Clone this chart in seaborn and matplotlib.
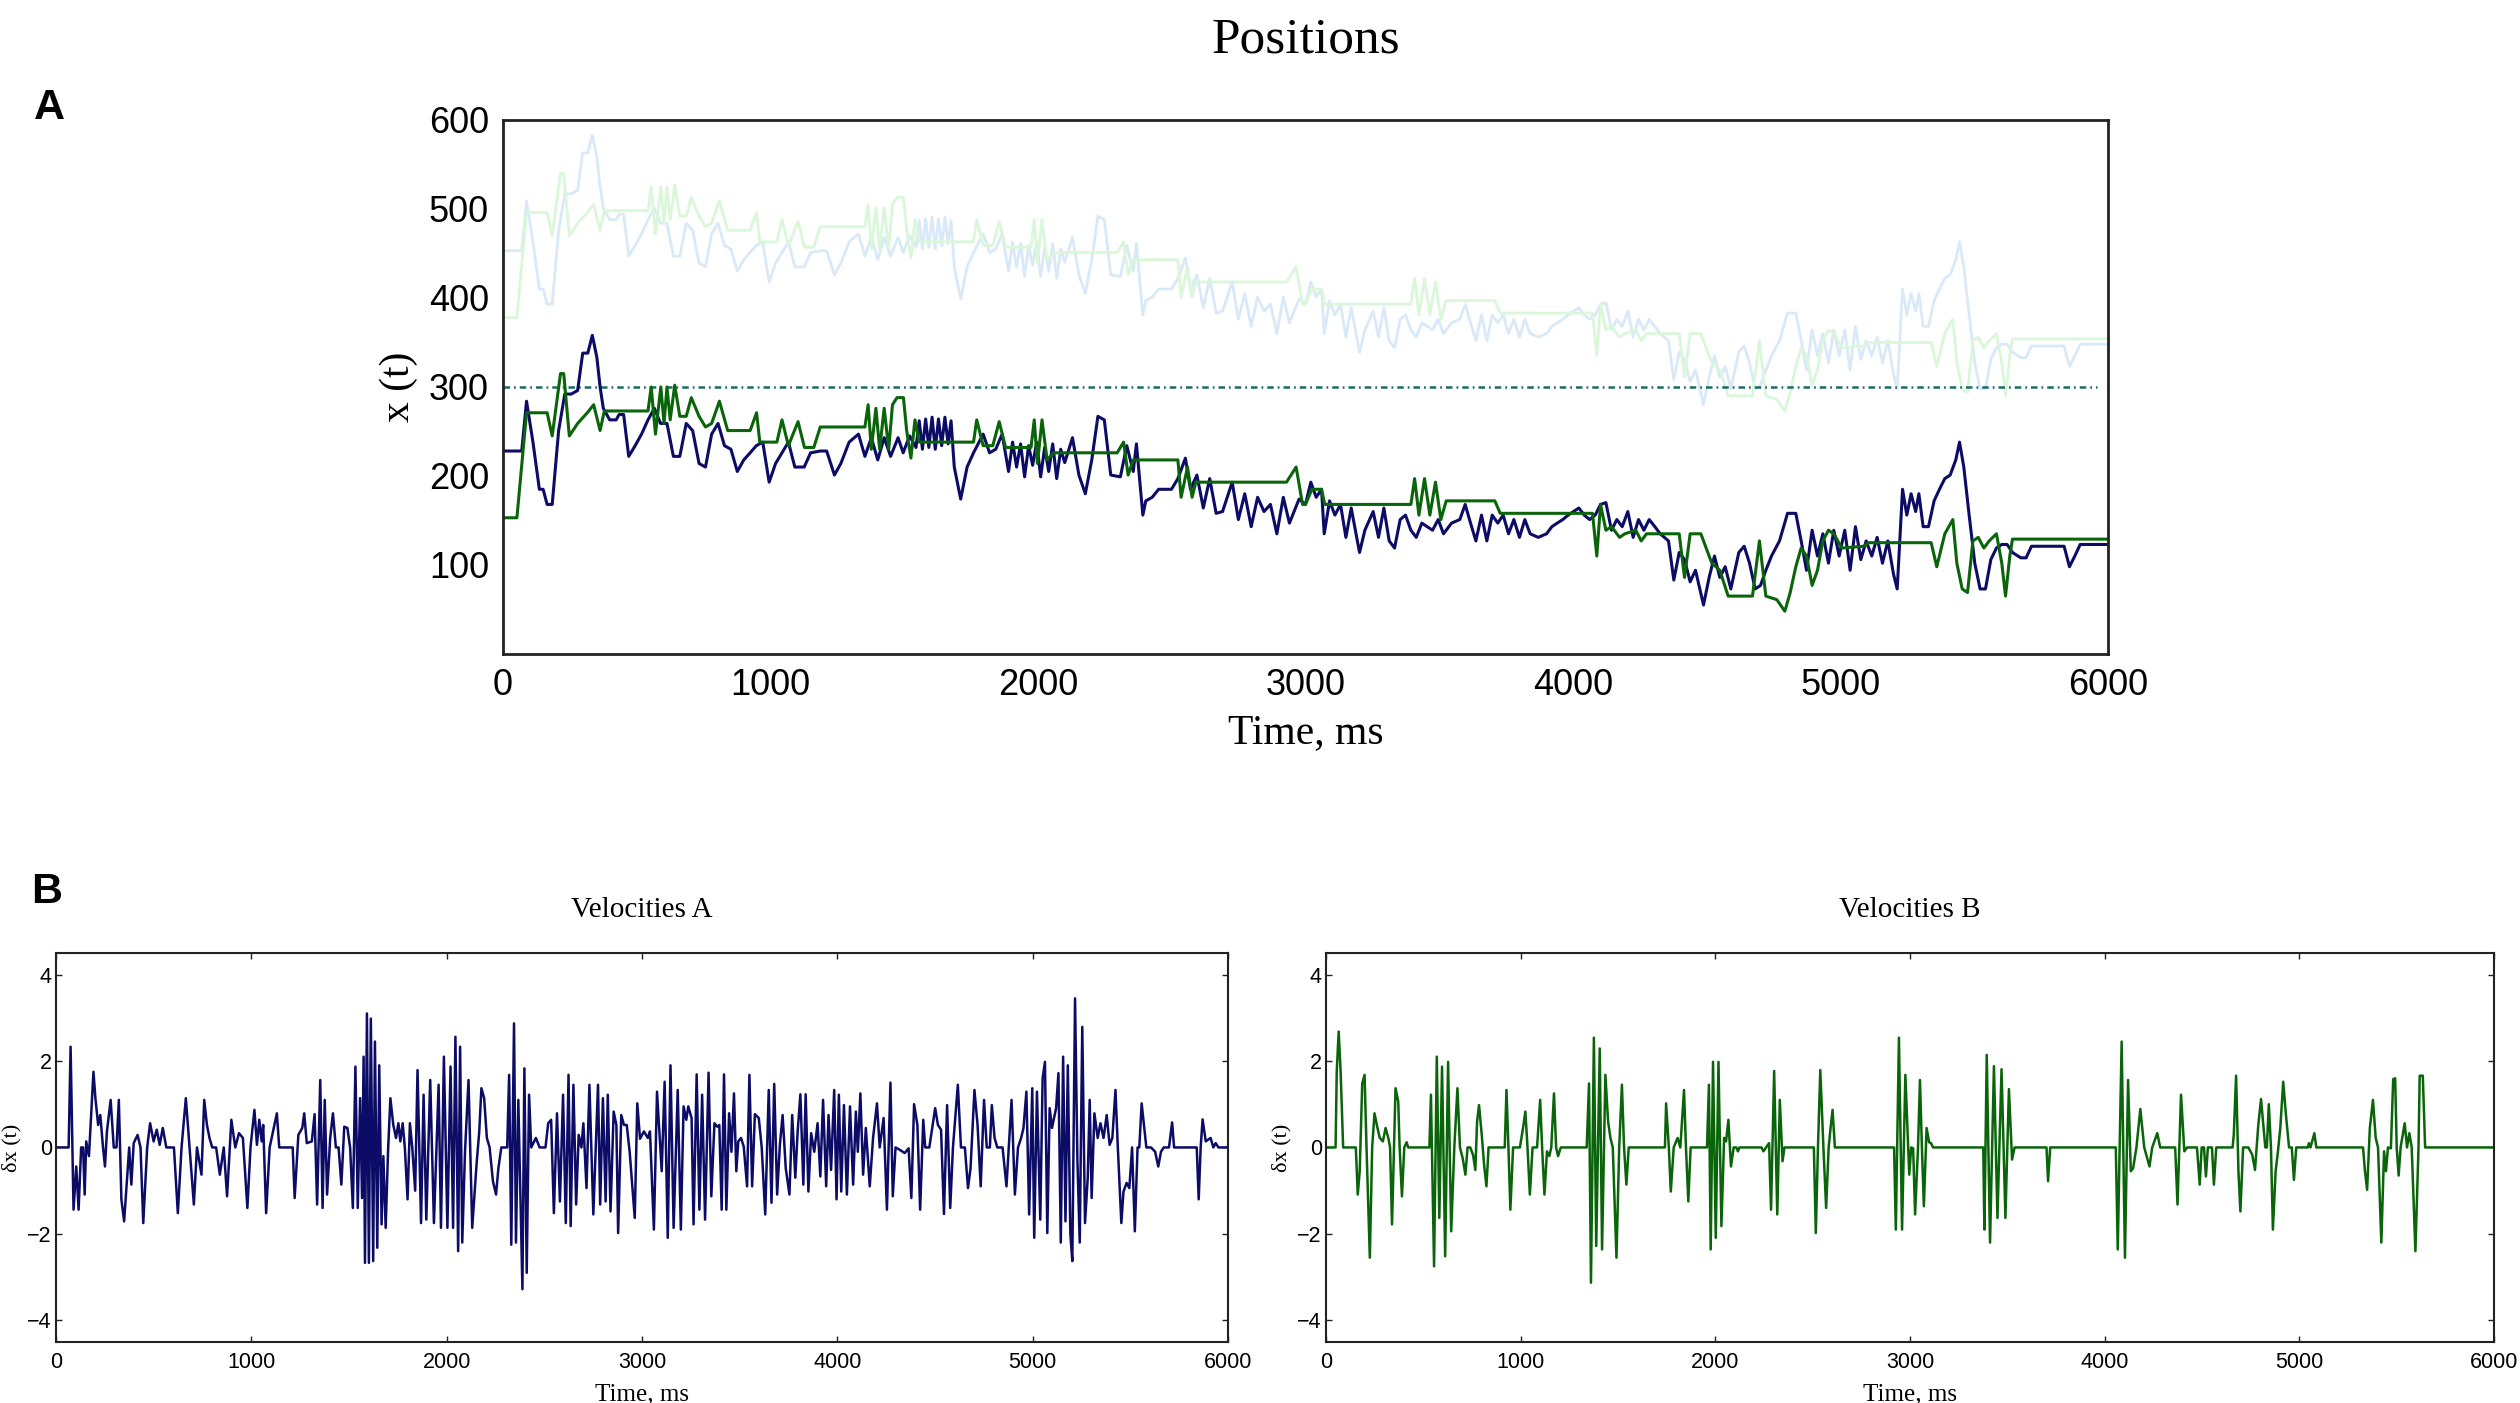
import numpy as np
import pandas as pd
import matplotlib
matplotlib.use("Agg")
import matplotlib.pyplot as plt
import seaborn as sns

# ---------------- data ----------------
BLUE_T = [0, 70, 88, 112, 136, 150, 165, 184, 208, 231, 255, 279, 298, 317, 334, 351, 363, 375, 399, 423,
          434, 451, 470, 494, 518, 542, 566, 589, 613, 637, 661, 685, 709, 733, 757, 780, 804, 828, 852, 876,
          900, 924, 947, 971, 995, 1019, 1043, 1067, 1091, 1126, 1150, 1186, 1210, 1239, 1263, 1294, 1329,
          1353, 1377, 1401, 1425, 1449, 1477, 1496, 1520, 1544, 1556, 1568, 1580, 1592, 1604, 1616, 1628,
          1640, 1652, 1664, 1675, 1687, 1711, 1735, 1759, 1795, 1819, 1842, 1866, 1890, 1905, 1920, 1935,
          1950, 1965, 1980, 1995, 2010, 2025, 2040, 2055, 2070, 2085, 2100, 2129, 2153, 2177, 2201, 2224,
          2248, 2272, 2308, 2332, 2356, 2368, 2392, 2403, 2427, 2451, 2499, 2523, 2551, 2570, 2594, 2618,
          2642, 2666, 2690, 2726, 2749, 2773, 2797, 2821, 2845, 2869, 2893, 2917, 2940, 2976, 3000, 3020,
          3040, 3060, 3070, 3090, 3110, 3131, 3151, 3171, 3202, 3222, 3253, 3273, 3293, 3313, 3333, 3354,
          3374, 3394, 3414, 3435, 3455, 3475, 3496, 3516, 3546, 3577, 3597, 3617, 3637, 3658, 3678, 3698,
          3719, 3739, 3759, 3779, 3800, 3820, 3840, 3870, 3901, 3921, 3941, 3962, 3982, 4002, 4022, 4042,
          4062, 4083, 4103, 4123, 4144, 4164, 4184, 4205, 4225, 4245, 4265, 4285, 4306, 4326, 4357, 4377,
          4397, 4417, 4438, 4458, 4488, 4509, 4529, 4549, 4569, 4590, 4620, 4640, 4660, 4681, 4701, 4721,
          4742, 4772, 4802, 4833, 4853, 4873, 4894, 4914, 4934, 4955, 4975, 4995, 5016, 5036, 5056, 5076,
          5096, 5117, 5137, 5157, 5177, 5198, 5212, 5232, 5248, 5264, 5281, 5293, 5309, 5329, 5350, 5370,
          5390, 5410, 5431, 5445, 5461, 5481, 5502, 5522, 5542, 5562, 5583, 5603, 5623, 5643, 5674, 5694,
          5714, 5836, 5856, 5876, 5896, 6000]
BLUE_X = [228, 228, 284, 238, 185, 185, 168, 168, 251, 292, 292, 296, 338, 338, 358, 333, 300, 276, 263, 263,
          269, 269, 222, 234, 247, 263, 276, 259, 259, 222, 222, 259, 251, 214, 210, 247, 259, 234, 230, 205,
          218, 226, 234, 238, 193, 214, 226, 238, 210, 210, 226, 228, 228, 201, 214, 238, 247,
          222, 243, 218, 243, 222, 243, 226, 245, 232, 262, 230, 264, 232, 266, 230, 264,
          234, 266, 236, 262, 210, 174, 210, 226, 247, 226, 230, 247, 205, 238, 210, 236,
          199, 234, 212, 238, 199, 232, 205, 236, 197, 230, 215, 243, 201, 180, 218, 267,
          263, 201, 199, 234, 205, 236, 156, 172, 176, 185, 185, 197, 220, 185, 201, 164,
          197, 158, 160, 193, 151, 180, 143, 176, 160, 168, 135, 176, 147, 174, 168, 193,
          176, 185, 135, 172, 156, 168, 131, 164, 114, 139, 160, 131, 164, 127, 119, 151,
          156, 139, 131, 147, 143, 139, 151, 135, 147, 151, 168, 147, 127, 156, 127, 156,
          147, 156, 135, 151, 131, 151, 135, 131, 135, 143, 147, 151, 156, 160, 164, 156,
          151, 156, 168, 170, 139, 151, 143, 160, 131, 151, 139, 151, 143, 135, 127, 83,
          114, 106, 81, 94, 55, 86, 110, 86, 98, 73, 114, 121, 102, 73, 77, 94,
          110, 127, 158, 158, 127, 94, 139, 110, 135, 102, 139, 110, 139, 94, 143, 106,
          127, 110, 131, 102, 127, 90, 73, 185, 156, 180, 160, 180, 143, 143, 172, 185,
          197, 201, 218, 238, 210, 156, 102, 73, 73, 106, 119, 123, 123, 114, 108, 108,
          121, 121, 98, 110, 123, 123]

GREEN_T = [0, 52, 88, 165, 184, 215, 227, 248, 279, 315, 339, 363, 379, 542, 554, 570, 590, 602, 613, 625,
           642, 661, 685, 704, 733, 757, 780, 809, 840, 924, 948, 960, 1024, 1043, 1067, 1103, 1127, 1162,
           1186, 1353, 1365, 1377, 1394, 1408, 1425, 1442, 1456, 1473, 1497, 1509, 1525, 1540, 1556, 1759,
           1771, 1795, 1831, 1855, 1879, 1974, 1986, 1998, 2015, 2034, 2058, 2296, 2320, 2337, 2356, 2523,
           2535, 2559, 2576, 2590, 2929, 2965, 2989, 3000, 3024, 3060, 3072, 3394, 3408, 3424, 3445, 3465,
           3486, 3506, 3526, 3708, 3728, 4073, 4089, 4103, 4123, 4144, 4174, 4194, 4235, 4255, 4275, 4397,
           4417, 4438, 4478, 4519, 4549, 4580, 4671, 4697, 4721, 4762, 4792, 4812, 4833, 4853, 4873, 4894,
           4914, 4934, 4955, 4975, 5005, 5086, 5106, 5339, 5360, 5390, 5420, 5435, 5455, 5475, 5495, 5515,
           5536, 5556, 5583, 5603, 5617, 5633, 5643, 6000]
GREEN_X = [153, 153, 271, 271, 245, 315, 315, 245, 259, 271, 280, 251, 273, 273, 300, 247, 300, 259, 300, 263,
           302, 267, 267, 288, 267, 255, 259, 284, 251, 251, 271, 238, 238, 263, 234, 261, 232, 232,
           255, 255, 280, 230, 276, 230, 276, 230, 280, 288, 288, 251, 220, 263, 238, 238,
           263, 234, 234, 261, 232, 232, 263, 214, 263, 218, 226, 226, 238, 201, 218, 218,
           176, 210, 176, 193, 193, 210, 168, 168, 185, 185, 168, 168, 197, 156, 197, 156,
           193, 151, 172, 172, 158, 158, 110, 168, 139, 143, 131, 135, 139, 127, 135, 135,
           86, 135, 135, 102, 94, 65, 65, 127, 65, 61, 48, 69, 98, 119, 110, 77,
           94, 127, 139, 135, 119, 121, 125, 125, 98, 135, 151, 102, 73, 69, 127, 131,
           119, 127, 135, 102, 65, 110, 129, 129]

LIGHT_OFFSET = 225      # the faint traces are the same paths drawn 225 units higher
REFERENCE_LEVEL = 300   # dash-dot line

VEL_A_T = [0, 65, 75, 90, 104, 116, 129, 139, 147, 155, 169, 192, 202, 216, 227, 241, 251, 261, 280, 296,
           310, 322, 335, 349, 363, 375, 386, 398, 418, 433, 447, 467, 482, 500, 516, 531, 547, 565, 604, 624,
           643, 665, 684, 706, 722, 745, 759, 773, 786, 800, 820, 839, 859, 876, 898, 918, 937, 957, 980, 996,
           1016, 1029, 1041, 1053, 1061, 1076, 1094, 1131, 1143, 1212, 1222, 1241, 1261, 1271, 1284, 1310,
           1324, 1337, 1353, 1365, 1376, 1388, 1404, 1418, 1433, 1447, 1461, 1476, 1492, 1506, 1520, 1533,
           1545, 1557, 1567, 1575, 1582, 1592, 1602, 1612, 1624, 1633, 1645, 1655, 1667, 1676, 1688, 1700,
           1712, 1727, 1741, 1753, 1763, 1775, 1786, 1800, 1812, 1824, 1839, 1851, 1869, 1882, 1896, 1916,
           1935, 1959, 1971, 1986, 2004, 2020, 2033, 2045, 2059, 2069, 2080, 2094, 2112, 2131, 2153, 2167,
           2178, 2192, 2206, 2220, 2237, 2253, 2265, 2280, 2310, 2320, 2331, 2345, 2355, 2367, 2378, 2388,
           2398, 2410, 2422, 2433, 2457, 2476, 2506, 2520, 2535, 2549, 2565, 2580, 2596, 2610, 2624, 2635,
           2649, 2663, 2676, 2690, 2700, 2716, 2731, 2751, 2775, 2786, 2800, 2814, 2825, 2839, 2855, 2869,
           2878, 2894, 2908, 2922, 2937, 2963, 2976, 2990, 3010, 3030, 3041, 3061, 3077, 3091, 3101, 3116,
           3132, 3146, 3162, 3183, 3199, 3213, 3227, 3237, 3254, 3264, 3280, 3294, 3308, 3323, 3341, 3355,
           3371, 3385, 3396, 3408, 3420, 3432, 3446, 3458, 3471, 3483, 3493, 3507, 3521, 3538, 3550, 3564,
           3578, 3598, 3613, 3631, 3649, 3663, 3677, 3692, 3706, 3720, 3736, 3755, 3769, 3785, 3797, 3811,
           3826, 3838, 3852, 3866, 3882, 3899, 3913, 3927, 3943, 3955, 3968, 3984, 3996, 4008, 4020, 4034,
           4049, 4065, 4081, 4095, 4105, 4118, 4132, 4146, 4166, 4183, 4203, 4217, 4237, 4254, 4272, 4284,
           4298, 4318, 4345, 4365, 4379, 4393, 4410, 4424, 4440, 4450, 4471, 4487, 4501, 4515, 4531, 4546,
           4562, 4578, 4592, 4617, 4633, 4653, 4669, 4682, 4702, 4718, 4734, 4751, 4765, 4781, 4791, 4805,
           4819, 4846, 4866, 4892, 4909, 4925, 4941, 4953, 4968, 4982, 4998, 5008, 5022, 5039, 5051, 5063,
           5075, 5087, 5099, 5120, 5132, 5144, 5156, 5168, 5180, 5193, 5203, 5217, 5229, 5241, 5254, 5268,
           5282, 5292, 5302, 5316, 5333, 5347, 5363, 5379, 5394, 5408, 5424, 5436, 5454, 5465, 5481, 5495,
           5509, 5523, 5537, 5546, 5558, 5570, 5582, 5606, 5627, 5643, 5657, 5671, 5698, 5714, 5724, 5840,
           5850, 5860, 5870, 5886, 5911, 5925, 5937, 5951, 6000]
VEL_A_V = [0, 0, 2.33, -1.44, -0.44, -1.44, 0, 0, -1.09, 0.14, -0.2, 1.75, 1.14, 0.52, 0.75, 0, -0.44, 0.37, 1.1, 0,
           0, 1.1, -1.2, -1.71, -0.78, 0, -0.86, 0.1, 0.29, 0, -1.75, 0, 0.56, 0.14, 0.41, 0.06, 0.45, 0, 0, -1.52,
           0, 1.14, 0, -1.32, 0, -0.63, 1.1, 0.52, 0.22, 0, 0, -0.63, 0, -1.13, 0.64, 0, 0.33, 0.22, -1.4, 0,
           0.87, 0.06, 0.64, 0.14, 0.52, -1.52, 0, 0.79, 0, 0, -1.17, 0.29, 0.45, 0.79, 0.1, 0.14,
           0.77, -1.32, 1.56, -1.4, 1.1, -1.09, 0.22, 0.79, 0, 0, -0.86, 0.48, 0.45, 0, -1.4, 1.87,
           -1.4, 1.14, -1.17, 2.1, -2.67, 3.1, -2.67, 2.98, -2.63, 2.45, -2.32, 1.9, -1.78, -0.2, -1.86, -0.1,
           1.14, 0.52, 0.22, 0.56, 0.14, 0.56, 0, -1.2, 0.56, 0, -1.0, 1.79, -1.75, 1.22, -1.67, 1.56,
           -1.75, 1.45, -1.86, 2.1, -1.86, 1.87, -1.86, 2.56, -2.4, 2.33, -2.2, -0.1, 1.56, -1.86, -0.4, 0.37,
           1.37, 1.14, 0.22, 0, -0.78, -1.09, -0.48, 0, 0, 1.68, -2.25, 2.87, -2.2, 1.1, -1.25, -3.28,
           1.83, -2.9, 1.22, 0, 0.22, 0, 0, 0.56, 0.64, -1.52, 0.79, -1.25, 1.22, -1.75, 1.68, -1.82,
           1.45, -1.32, 0.29, 0, 0.56, -0.94, 1.45, -1.55, 1.45, -1.32, 1.14, -1.25, 1.22, -1.48, 0.83, 0.52,
           -1.98, 0.75, 0.52, 0.52, -0.1, -1.63, 1.02, 0.2, 0.37, 0.22, 0.37, -1.9, 1.29, 0.22, -0.55, 1.52,
           -2.09, 1.9, -1.86, 1.33, -1.9, 0.95, 0.64, 0.95, 0.68, -1.78, 1.69, -1.44, 1.22, -1.67, 1.73, -1.13,
           0.56, 0.48, 0.52, -1.44, 1.69, -1.44, 0.79, -0.1, 1.25, -0.55, 0.14, 0.22, 0.02, -0.9, 1.68, -0.9,
           0.77, 0.68, 0, -1.55, 1.33, -1.28, 1.47, -1.09, 0.06, 0.75, -0.48, -1.09, 0.75, -0.7, 0.37, 1.23,
           -0.86, 1.23, -1.02, 0.33, -0.1, 0.56, -0.67, 1.1, -0.9, 0.75, -0.52, 1.33, -1.2, 1.22, -1.02, 0.98,
           -1.09, 0.95, -0.86, 0.83, -0.1, 1.25, -0.63, 0.45, -0.9, 0.22, 1.02, 0, 0.68, -1.44, 1.5, -1.13,
           0, -0.05, -0.13, -0.02, -1.17, 1.0, 0.52, -1.44, 0.64, 0, 0, 0.48, 0.91, 0.52, 0.41, -1.54,
           0.98, -1.4, 0, 1.45, 0, 0, -0.94, -0.48, 1.33, 0.52, -0.9, 1.1, 0, 0, 0.98, 0.22,
           0, 0, -0.9, 1.1, -1.09, 0, 0.22, 0.45, 1.29, -1.55, 1.37, -2.09, 1.29, -1.67, 1.6, 1.98,
           -1.98, 0.91, 0.45, 0.91, 1.72, -2.2, 2.1, -1.71, 1.9, -2.0, -2.63, 3.45, -0.28, -2.2, 2.79, -1.75,
           -0.7, 1.1, -1.17, 0.79, 0.22, 0.56, 0.22, 0.75, 0.06, 0.22, 1.33, 0, -1.75, -1.02, -0.82, -0.94,
           0, -1.94, 0, 0, 1.02, 0.52, 0, 0, -0.1, -0.44, -0.1, 0, 0, 0.58, 0, 0,
           -1.2, 0, 0.65, 0.14, 0.22, 0, 0.1, 0, 0]

VEL_B_T = [0, 49, 55, 65, 75, 88, 153, 163, 173, 186, 198, 208, 225, 237, 249, 261, 276, 292, 306, 320,
           329, 339, 357, 371, 378, 390, 402, 414, 422, 531, 539, 555, 569, 582, 596, 612, 627, 643, 659, 675,
           688, 702, 716, 727, 741, 755, 767, 776, 786, 800, 812, 824, 835, 918, 927, 937, 947, 961, 996, 1012,
           1024, 1035, 1047, 1061, 1084, 1100, 1110, 1122, 1135, 1147, 1157, 1171, 1182, 1192, 1206, 1339,
           1351, 1361, 1376, 1388, 1406, 1418, 1435, 1449, 1461, 1473, 1492, 1506, 1520, 1531, 1543, 1555,
           1741, 1747, 1761, 1771, 1786, 1806, 1820, 1839, 1849, 1861, 1873, 1957, 1967, 1976, 1988, 2002,
           2016, 2031, 2045, 2055, 2067, 2080, 2094, 2108, 2116, 2124, 2237, 2247, 2261, 2276, 2286, 2302,
           2318, 2331, 2345, 2355, 2506, 2516, 2527, 2539, 2555, 2569, 2582, 2590, 2602, 2614, 2918, 2927,
           2943, 2959, 2976, 2996, 3006, 3016, 3026, 3041, 3051, 3061, 3071, 3085, 3098, 3108, 3118, 3376,
           3382, 3394, 3411, 3431, 3449, 3470, 3490, 3508, 3524, 3537, 3701, 3709, 3720, 4057, 4067, 4087,
           4104, 4120, 4134, 4146, 4163, 4183, 4203, 4230, 4244, 4256, 4270, 4285, 4362, 4374, 4392, 4409,
           4423, 4474, 4488, 4498, 4510, 4520, 4530, 4551, 4561, 4573, 4657, 4663, 4675, 4687, 4697, 4711,
           4738, 4758, 4772, 4789, 4803, 4815, 4825, 4833, 4843, 4854, 4864, 4878, 4890, 4902, 4917, 4931,
           4947, 4961, 4972, 4984, 5043, 5049, 5057, 5077, 5087, 5327, 5337, 5348, 5362, 5378, 5392, 5404,
           5421, 5435, 5445, 5455, 5470, 5482, 5492, 5500, 5510, 5520, 5541, 5553, 5565, 5577, 5596, 5612,
           5618, 5634, 5646, 6000]
VEL_B_V = [0, 0, 1.75, 2.68, 1.75, 0, 0, -1.09, -0.55, 1.48, 1.68, 0, -2.55, 0, 0.79, 0.52, 0.22, 0.14, 0.45, 0.22,
           0, -1.78, 1.37, 1.06, 0, -1.13, 0, 0.12, 0, 0, 1.22, -2.75, 2.1, -1.63, 1.87, -2.52, 1.98, -1.94, 0, 1.37,
           0, -0.25, -0.63, 0, 0, -0.17, -0.52, 0.6, 0.98, 0.29, -0.4, -0.9, 0, 0, 1.33, 0, -1.44, 0, 0, 0.45,
           0.83, 0, -1.09, 0, 0, 1.1, 0, -1.09, -0.09, -0.2, 0, 1.25, 0, -0.2, 0, 0,
           1.48, -3.13, 2.54, -2.28, 2.29, -2.36, 1.68, 0.6, 0.22, 0, -2.55, 0, 1.45, 0, -0.86, 0,
           0, 1.02, 0, -1.02, 0, 0.22, 0, 1.33, 0, -1.25, 0, 0, 1.45, -2.36, 1.98, -2.09,
           1.98, -1.82, 0.22, 0.14, 0.64, -0.44, 0, 0, -0.09, 0, 0, -0.09, 0, 0.1, -1.44, 1.77,
           -1.55, 1.1, -0.32, 0, 0, -1.98, 0, 1.79, 0, -1.4, 0, 0.37, 0.87, 0, 0, -1.9,
           2.54, -1.9, 1.68, -0.63, 0, -0.02, -1.55, 0, 1.56, 0, -1.36, 0.45, 0.12, 0.1, 0, 0,
           -1.9, 2.14, -2.2, 1.88, -1.63, 1.81, -1.63, 1.35, -0.28, 0, 0, -0.78, 0, 0, -2.36, 2.45,
           -2.55, 1.56, -0.55, -0.48, 0, 0.89, 0, -0.44, 0, 0.15, 0.33, 0, 0, -1.32, 1.22, -0.09,
           0, 0, -0.86, 0, 0, -0.67, 0, 0, -0.86, 0, 0, 0.29, 1.66, -0.55, -1.48, 0,
           0, -0.17, -0.52, 0.52, 1.12, 0.52, 0, 0, 1.0, 0, -1.9, -0.55, -0.09, 0.45, 1.52, 0.75,
           0, 0, -0.75, 0, 0, 0.1, 0, 0.33, 0, 0, -0.55, -0.98, 0.45, 1.1, 0.22, 0,
           -2.2, -0.09, -0.55, 0, -0.02, 1.58, 1.6, 0, -0.65, 0, 0.56, 0, 0.33, 0, -2.4, 0,
           1.66, 1.66, 0, 0]

X_TICKS = [0, 1000, 2000, 3000, 4000, 5000, 6000]
POS_Y_TICKS = [100, 200, 300, 400, 500, 600]
VEL_Y_TICKS = [-4, -2, 0, 2, 4]

# ---------------- style ----------------
sns.set_theme(style="white")
plt.rcParams["font.family"] = ["Liberation Sans", "DejaVu Sans"]
plt.rcParams["text.color"] = "black"
plt.rcParams["axes.labelcolor"] = "black"
plt.rcParams["xtick.color"] = "black"
plt.rcParams["ytick.color"] = "black"

SERIF = ["Liberation Serif", "DejaVu Serif"]
SANS = ["Liberation Sans", "DejaVu Sans"]

NAVY = "#0c0c66"
DGREEN = "#0a640a"
LBLUE = "#d9e9f8"
LGREEN = "#daf7da"
TEAL = "#1c6a6a"

fig = plt.figure(figsize=(25.2, 14.03), dpi=100)
fig.patch.set_facecolor("white")

pos_blue = pd.DataFrame({"t": BLUE_T, "x": BLUE_X})
pos_green = pd.DataFrame({"t": GREEN_T, "x": GREEN_X})
light_blue = pos_blue.assign(x=pos_blue["x"] + LIGHT_OFFSET)
light_green = pos_green.assign(x=pos_green["x"] + LIGHT_OFFSET)
vel_a = pd.DataFrame({"t": VEL_A_T, "v": VEL_A_V})
vel_b = pd.DataFrame({"t": VEL_B_T, "v": VEL_B_V})


def style_axes(ax, spine_w):
    for s in ax.spines.values():
        s.set_visible(True)
        s.set_color("#222222")
        s.set_linewidth(spine_w)
    ax.grid(False)
    ax.set_facecolor("white")


common = dict(estimator=None, sort=False, legend=False)
line_kw = dict(solid_joinstyle="round", solid_capstyle="round")

# ---------------- panel A ----------------
axA = fig.add_axes([0.1996, 0.5339, 0.6369, 0.3806])
sns.lineplot(data=light_blue, x="t", y="x", ax=axA, color=LBLUE, linewidth=2.0, **common, **line_kw)
sns.lineplot(data=light_green, x="t", y="x", ax=axA, color=LGREEN, linewidth=2.0, **common, **line_kw)
axA.axhline(REFERENCE_LEVEL, xmin=0.0, xmax=0.993, color=TEAL, linewidth=1.8,
            linestyle=(0, (2.6, 1.6, 0.7, 1.6)))
sns.lineplot(data=pos_blue, x="t", y="x", ax=axA, color=NAVY, linewidth=2.2, **common, **line_kw)
sns.lineplot(data=pos_green, x="t", y="x", ax=axA, color=DGREEN, linewidth=2.2, **common, **line_kw)
axA.set_xlim(0, 6000)
axA.set_ylim(0, 600)
axA.set_xticks(X_TICKS)
axA.set_yticks(POS_Y_TICKS)
axA.tick_params(axis="both", labelsize=26, length=0, pad=10, labelcolor="black")
for lab in axA.get_xticklabels() + axA.get_yticklabels():
    lab.set_family(SANS)
axA.set_xlabel("Time, ms", fontsize=30, family=SERIF, labelpad=8, color="black")
axA.set_ylabel("x (t)", fontsize=30, family=SERIF, labelpad=8, color="black")
style_axes(axA, 2.0)

fig.text(0.5183, 0.9715, "Positions", ha="center", va="center", fontsize=37, family=SERIF, color="black")
fig.text(0.0195, 0.923, "A", ha="center", va="center", fontsize=31, fontweight="bold", family=SANS, color="black")
fig.text(0.0185, 0.364, "B", ha="center", va="center", fontsize=31, fontweight="bold", family=SANS, color="black")

# ---------------- panel B ----------------
def vel_panel(rect, df, color, title):
    ax = fig.add_axes(rect)
    sns.lineplot(data=df, x="t", y="v", ax=ax, color=color, linewidth=1.8, **common, **line_kw)
    ax.set_xlim(0, 6000)
    ax.set_ylim(-4.5, 4.5)
    ax.set_xticks(X_TICKS)
    ax.set_yticks(VEL_Y_TICKS)
    ax.tick_params(axis="both", labelsize=15.5, direction="in", length=4, width=1,
                   top=True, right=True, bottom=True, left=True, colors="#222222",
                   labelcolor="black")
    ax.tick_params(axis="y", pad=3)
    ax.tick_params(axis="x", pad=7)
    for lab in ax.get_xticklabels() + ax.get_yticklabels():
        lab.set_family(SANS)
    ax.set_xlabel("Time, ms", fontsize=18, family=SERIF, labelpad=8, color="black")
    ax.set_ylabel("\u03b4x (t)", fontsize=16, family=SERIF, labelpad=4, color="black")
    ax.set_title(title, fontsize=21, family=SERIF, pad=26, color="black")
    style_axes(ax, 1.5)
    return ax

vel_panel([0.0222, 0.0435, 0.4651, 0.2773], vel_a, NAVY, "Velocities A")
vel_panel([0.5262, 0.0435, 0.4635, 0.2773], vel_b, DGREEN, "Velocities B")

fig.savefig("out.png", dpi=100, facecolor="white")
